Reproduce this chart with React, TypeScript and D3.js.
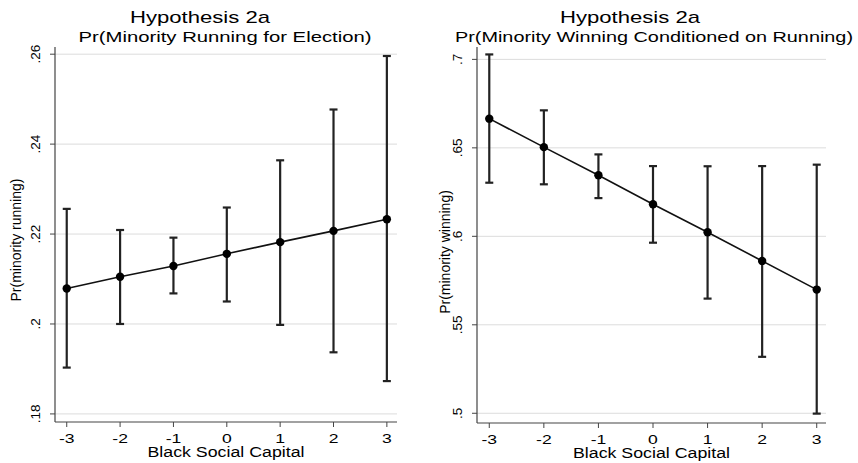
import React from 'react';
import * as d3 from 'd3';

const capital = [-3, -2, -1, 0, 1, 2, 3];

// left panel: Pr(minority running)
const runEst = [0.2079, 0.2105, 0.2129, 0.2156, 0.2182, 0.2207, 0.2233];
const runHi = [0.2256, 0.2209, 0.2192, 0.2259, 0.2364, 0.2477, 0.2596];
const runLo = [0.1903, 0.2000, 0.2068, 0.2050, 0.1998, 0.1937, 0.1873];
const runTicks = [0.18, 0.2, 0.22, 0.24, 0.26];
const runTickLabels = ['.18', '.2', '.22', '.24', '.26'];

// right panel: Pr(minority winning | running)
const winEst = [0.6665, 0.6504, 0.6345, 0.6181, 0.6023, 0.5861, 0.5699];
const winHi = [0.7028, 0.6712, 0.6463, 0.6397, 0.6396, 0.6397, 0.6405];
const winLo = [0.6303, 0.6294, 0.6216, 0.5964, 0.5648, 0.5319, 0.4998];
const winTicks = [0.5, 0.55, 0.6, 0.65, 0.7];
const winTickLabels = ['.5', '.55', '.6', '.65', '.7'];

const FONT = 'Liberation Sans, Arial, sans-serif';

type PanelProps = {
  left: number; right: number; top: number; bottom: number;
  xDom: [number, number]; yDom: [number, number];
  est: number[]; hi: number[]; lo: number[];
  ticks: number[]; tickLabels: string[];
  title: string; titleX: number; sub: string; subX: number; subLen: number;
  yLabel: string; yLabelX: number; yLabelY: number; tickLabelX: number;
};

function Panel(p: PanelProps) {
  const x = d3.scaleLinear().domain(p.xDom).range([p.left, p.right]);
  const y = d3.scaleLinear().domain(p.yDom).range([p.bottom, p.top]);
  const line = d3.line<number>()
    .x((d, i) => x(capital[i]))
    .y(d => y(d));
  const xMid = (p.left + p.right) / 2;

  return (
    <g>
      <text x={p.titleX} y={23} textAnchor="middle" fontSize={17} fontFamily={FONT}
        textLength={140} lengthAdjust="spacingAndGlyphs">{p.title}</text>
      <text x={p.subX} y={42} textAnchor="middle" fontSize={14} fontFamily={FONT}
        textLength={p.subLen} lengthAdjust="spacingAndGlyphs">{p.sub}</text>

      {p.ticks.map((t, i) => (
        <g key={'g' + i}>
          <line x1={p.left} x2={p.right} y1={y(t)} y2={y(t)} stroke="#dcdcdc" strokeWidth={1} />
          <line x1={p.left - 5} x2={p.left} y1={y(t)} y2={y(t)} stroke="#444" strokeWidth={1} />
          <text transform={`translate(${p.tickLabelX},${y(t)}) rotate(-90)`} textAnchor="middle"
            fontSize={13.5} fontFamily={FONT}>{p.tickLabels[i]}</text>
        </g>
      ))}

      {capital.map(c => (
        <g key={'x' + c}>
          <line x1={x(c)} x2={x(c)} y1={p.bottom} y2={p.bottom + 5} stroke="#444" strokeWidth={1} />
          <text transform={`translate(${x(c)},${p.bottom + 21}) scale(1.35,1)`} textAnchor="middle"
            fontSize={13} fontFamily={FONT}>{c}</text>
        </g>
      ))}

      <line x1={p.left} x2={p.left} y1={p.top} y2={p.bottom} stroke="#444" strokeWidth={1.2} />
      <line x1={p.left} x2={p.right} y1={p.bottom} y2={p.bottom} stroke="#444" strokeWidth={1.2} />

      <text x={xMid} y={p.bottom + 35} textAnchor="middle" fontSize={14} fontFamily={FONT}
        textLength={157} lengthAdjust="spacingAndGlyphs">Black Social Capital</text>
      <text transform={`translate(${p.yLabelX},${p.yLabelY}) rotate(-90)`} textAnchor="middle"
        fontSize={14} fontFamily={FONT}>{p.yLabel}</text>

      {capital.map((c, i) => (
        <g key={'e' + c} stroke="#222" strokeWidth={2.2}>
          <line x1={x(c)} x2={x(c)} y1={y(p.hi[i])} y2={y(p.lo[i])} />
          <line x1={x(c) - 4} x2={x(c) + 4} y1={y(p.hi[i])} y2={y(p.hi[i])} />
          <line x1={x(c) - 4} x2={x(c) + 4} y1={y(p.lo[i])} y2={y(p.lo[i])} />
        </g>
      ))}
      <path d={line(p.est) || ''} fill="none" stroke="#111" strokeWidth={1.6} />
      {capital.map((c, i) => (
        <circle key={'m' + c} cx={x(c)} cy={y(p.est[i])} r={4.2} fill="#000" />
      ))}
    </g>
  );
}

export default function App() {
  return (
    <svg width={858} height={463} style={{ position: 'absolute', left: 0, top: 0, background: '#fff' }}>
      <rect width={858} height={463} fill="#fff" />
      <Panel left={55} right={397} top={47} bottom={422}
        xDom={[-3.22, 3.19]} yDom={[0.1782, 0.2616]}
        est={runEst} hi={runHi} lo={runLo}
        ticks={runTicks} tickLabels={runTickLabels}
        title="Hypothesis 2a" titleX={200} sub="Pr(Minority Running for Election)" subX={225} subLen={293}
        yLabel="Pr(minority running)" yLabelX={21} yLabelY={240} tickLabelX={40} />
      <Panel left={477} right={826} top={47} bottom={423}
        xDom={[-3.225, 3.17]} yDom={[0.4945, 0.707]}
        est={winEst} hi={winHi} lo={winLo}
        ticks={winTicks} tickLabels={winTickLabels}
        title="Hypothesis 2a" titleX={630} sub="Pr(Minority Winning Conditioned on Running)" subX={654} subLen={398}
        yLabel="Pr(minority winning)" yLabelX={450} yLabelY={252} tickLabelX={462} />
    </svg>
  );
}
